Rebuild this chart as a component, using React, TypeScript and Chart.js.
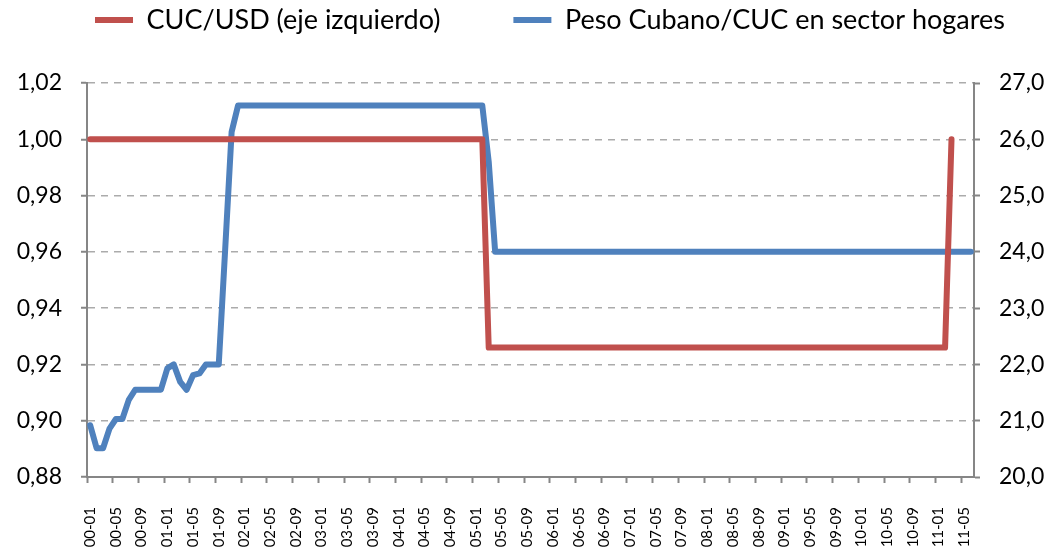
import React, { useEffect, useRef } from 'react';
import { Chart, registerables } from 'chart.js';

Chart.register(...registerables);

// ---- data ----
const YEARS = ['00', '01', '02', '03', '04', '05', '06', '07', '08', '09', '10', '11'];
const MONTHS = ['01', '02', '03', '04', '05', '06', '07', '08', '09', '10', '11', '12'];
const CATEGORIES: string[] = YEARS.flatMap((y) => MONTHS.map((m) => `${y}-${m}`)).slice(0, 138);

const SERIES_NAMES = ['CUC/USD (eje izquierdo)', 'Peso Cubano/CUC en sector hogares'];

// CUC/USD (left axis)
const CUC_USD: (number | null)[] = [
  // 2000
  1.0, 1.0, 1.0, 1.0, 1.0, 1.0, 1.0, 1.0, 1.0, 1.0, 1.0, 1.0,
  // 2001
  1.0, 1.0, 1.0, 1.0, 1.0, 1.0, 1.0, 1.0, 1.0, 1.0, 1.0, 1.0,
  // 2002
  1.0, 1.0, 1.0, 1.0, 1.0, 1.0, 1.0, 1.0, 1.0, 1.0, 1.0, 1.0,
  // 2003
  1.0, 1.0, 1.0, 1.0, 1.0, 1.0, 1.0, 1.0, 1.0, 1.0, 1.0, 1.0,
  // 2004
  1.0, 1.0, 1.0, 1.0, 1.0, 1.0, 1.0, 1.0, 1.0, 1.0, 1.0, 1.0,
  // 2005
  1.0, 1.0, 0.926, 0.926, 0.926, 0.926, 0.926, 0.926, 0.926, 0.926, 0.926, 0.926,
  // 2006
  0.926, 0.926, 0.926, 0.926, 0.926, 0.926, 0.926, 0.926, 0.926, 0.926, 0.926, 0.926,
  // 2007
  0.926, 0.926, 0.926, 0.926, 0.926, 0.926, 0.926, 0.926, 0.926, 0.926, 0.926, 0.926,
  // 2008
  0.926, 0.926, 0.926, 0.926, 0.926, 0.926, 0.926, 0.926, 0.926, 0.926, 0.926, 0.926,
  // 2009
  0.926, 0.926, 0.926, 0.926, 0.926, 0.926, 0.926, 0.926, 0.926, 0.926, 0.926, 0.926,
  // 2010
  0.926, 0.926, 0.926, 0.926, 0.926, 0.926, 0.926, 0.926, 0.926, 0.926, 0.926, 0.926,
  // 2011
  0.926, 0.926, 1.0, null, null, null,
];

// Peso Cubano / CUC, households (right axis)
const CUP_CUC: (number | null)[] = [
  // 2000
  20.92, 20.51, 20.51, 20.86, 21.03, 21.03, 21.37, 21.55, 21.55, 21.55, 21.55, 21.55,
  // 2001
  21.93, 22.0, 21.69, 21.55, 21.81, 21.84, 22.0, 22.0, 22.0, 24.05, 26.13, 26.6,
  // 2002
  26.6, 26.6, 26.6, 26.6, 26.6, 26.6, 26.6, 26.6, 26.6, 26.6, 26.6, 26.6,
  // 2003
  26.6, 26.6, 26.6, 26.6, 26.6, 26.6, 26.6, 26.6, 26.6, 26.6, 26.6, 26.6,
  // 2004
  26.6, 26.6, 26.6, 26.6, 26.6, 26.6, 26.6, 26.6, 26.6, 26.6, 26.6, 26.6,
  // 2005
  26.6, 26.6, 25.6, 24.0, 24.0, 24.0, 24.0, 24.0, 24.0, 24.0, 24.0, 24.0,
  // 2006
  24.0, 24.0, 24.0, 24.0, 24.0, 24.0, 24.0, 24.0, 24.0, 24.0, 24.0, 24.0,
  // 2007
  24.0, 24.0, 24.0, 24.0, 24.0, 24.0, 24.0, 24.0, 24.0, 24.0, 24.0, 24.0,
  // 2008
  24.0, 24.0, 24.0, 24.0, 24.0, 24.0, 24.0, 24.0, 24.0, 24.0, 24.0, 24.0,
  // 2009
  24.0, 24.0, 24.0, 24.0, 24.0, 24.0, 24.0, 24.0, 24.0, 24.0, 24.0, 24.0,
  // 2010
  24.0, 24.0, 24.0, 24.0, 24.0, 24.0, 24.0, 24.0, 24.0, 24.0, 24.0, 24.0,
  // 2011
  24.0, 24.0, 24.0, 24.0, 24.0, 24.0,
];

const LEFT_TICKS = [0.88, 0.9, 0.92, 0.94, 0.96, 0.98, 1.0, 1.02];
const RIGHT_TICKS = [20, 21, 22, 23, 24, 25, 26, 27];
const LABEL_EVERY = 4;

// ---- styling ----
const RED = '#C0504D';
const BLUE = '#4F81BD';
const AXIS = '#868686';
const GRID = '#ABABAB';
const FONT = 'Lato, Carlito, "Noto Sans", sans-serif';

const LEGEND_FONT = 27;
const LEGEND_PAD = 73;
const LEGEND_X = 95;
const LEGEND_CY = 20;
const PLOT_TOP = 83;

const legendLayout = {
  id: 'legendLayout',
  beforeInit(chart: any) {
    const legend = chart.legend;
    if (!legend) return;
    const fit = legend.fit;
    legend.fit = function () {
      this.maxWidth = 5000;
      fit.call(this);
      this.height = PLOT_TOP;
    };
  },
  afterLayout(chart: any) {
    const l = chart.legend;
    if (!l) return;
    l.left = LEGEND_X - LEGEND_PAD;
    l.right = 5000;
    l.top = LEGEND_CY - LEGEND_PAD - LEGEND_FONT / 2;
    l.bottom = PLOT_TOP;
  },
};

export default function App() {
  const ref = useRef<HTMLCanvasElement>(null);

  useEffect(() => {
    if (!ref.current) return;
    const chart = new Chart(ref.current, {
      type: 'line',
      data: {
        labels: CATEGORIES,
        datasets: [
          {
            label: SERIES_NAMES[0],
            data: CUC_USD,
            yAxisID: 'y',
            borderColor: RED,
            backgroundColor: RED,
            borderWidth: 6,
            borderCapStyle: 'round',
            borderJoinStyle: 'round',
            pointRadius: 0,
            pointHoverRadius: 0,
            tension: 0,
            spanGaps: false,
          },
          {
            label: SERIES_NAMES[1],
            data: CUP_CUC,
            yAxisID: 'y1',
            borderColor: BLUE,
            backgroundColor: BLUE,
            borderWidth: 6,
            borderCapStyle: 'round',
            borderJoinStyle: 'round',
            pointRadius: 0,
            pointHoverRadius: 0,
            tension: 0,
            spanGaps: false,
          },
        ],
      },
      options: {
        responsive: false,
        animation: false,
        layout: { padding: 0 },
        plugins: {
          tooltip: { enabled: false },
          legend: {
            display: true,
            position: 'top',
            align: 'start',
            labels: {
              usePointStyle: true,
              pointStyle: 'line',
              pointStyleWidth: 38,
              padding: LEGEND_PAD,
              color: '#000',
              font: { family: FONT, size: LEGEND_FONT },
            },
          },
        },
        scales: {
          x: {
            type: 'category',
            offset: true,
            grid: {
              offset: true,
              drawOnChartArea: false,
              drawTicks: true,
              tickLength: 6,
              tickWidth: 2,
              tickColor: (ctx: any) => (ctx.index % LABEL_EVERY === 0 ? AXIS : 'rgba(0,0,0,0)'),
            },
            border: { display: true, color: AXIS, width: 2 },
            ticks: {
              autoSkip: false,
              maxRotation: 90,
              minRotation: 90,
              padding: 24,
              color: '#000',
              font: { family: FONT, size: 15 },
              callback: (_v: any, i: number) => (i % LABEL_EVERY === 0 ? CATEGORIES[i] : ''),
            },
            afterFit: (s: any) => {
              s.height = 73;
            },
          },
          y: {
            type: 'linear',
            position: 'left',
            min: LEFT_TICKS[0],
            max: LEFT_TICKS[LEFT_TICKS.length - 1],
            afterBuildTicks: (s: any) => {
              s.ticks = LEFT_TICKS.map((v) => ({ value: v }));
            },
            grid: {
              display: true,
              drawOnChartArea: true,
              color: GRID,
              lineWidth: 1.5,
              drawTicks: true,
              tickLength: 6,
              tickWidth: 2,
              tickColor: AXIS,
              tickBorderDash: [],
            },
            border: { display: true, color: AXIS, width: 2, dash: [7, 6] },
            ticks: {
              padding: 19,
              color: '#000',
              font: { family: FONT, size: 23 },
              callback: (v: any) => Number(v).toFixed(2).replace('.', ','),
            },
            afterFit: (s: any) => {
              s.width = 87;
            },
          },
          y1: {
            type: 'linear',
            position: 'right',
            min: RIGHT_TICKS[0],
            max: RIGHT_TICKS[RIGHT_TICKS.length - 1],
            afterBuildTicks: (s: any) => {
              s.ticks = RIGHT_TICKS.map((v) => ({ value: v }));
            },
            grid: {
              drawOnChartArea: false,
              drawTicks: true,
              tickLength: 6,
              tickWidth: 2,
              tickColor: AXIS,
            },
            border: { display: true, color: AXIS, width: 2 },
            ticks: {
              padding: 19,
              color: '#000',
              font: { family: FONT, size: 23 },
              callback: (v: any) => Number(v).toFixed(1).replace('.', ','),
            },
            afterFit: (s: any) => {
              s.width = 79;
            },
          },
        },
      },
      plugins: [legendLayout],
    } as any);
    return () => chart.destroy();
  }, []);

  return (
    <div style={{ position: 'fixed', left: 0, top: 0, width: 1053, height: 550, background: '#fff' }}>
      <canvas ref={ref} width={1053} height={550} style={{ display: 'block' }} />
    </div>
  );
}
